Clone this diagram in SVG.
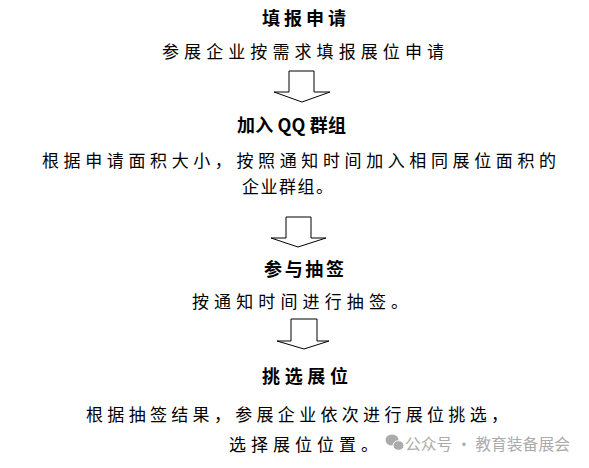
<svg xmlns="http://www.w3.org/2000/svg" width="589" height="468" viewBox="0 0 589 468">
<style>
.h{font-family:"Noto Sans CJK SC","Liberation Serif",serif;font-weight:bold;font-size:18px;fill:#000}
.t{font-family:"Noto Sans CJK SC","Liberation Sans",sans-serif;font-size:17px;fill:#000}
.w{font-family:"Noto Sans CJK SC","Liberation Sans",sans-serif;font-size:16px;fill:#ababab}
.arr{fill:#fff;stroke:#000;stroke-width:1}
</style>
<rect width="589" height="468" fill="#fff"/>
<g id="step1">
<text class="h" x="262" y="25" textLength="84" lengthAdjust="spacing">填报申请</text>
<text class="t" x="162" y="58" textLength="282" lengthAdjust="spacing">参展企业按需求填报展位申请</text>
</g>
<g id="step2">
<text class="h" x="237" y="132" textLength="109" lengthAdjust="spacing">加入 QQ 群组</text>
<text class="t" x="42" y="167" textLength="514" lengthAdjust="spacing">根据申请面积大小，按照通知时间加入相同展位面积的</text>
<text class="t" x="242" y="193" textLength="91" lengthAdjust="spacing">企业群组。</text>
</g>
<g id="step3">
<text class="h" x="264" y="276" textLength="80" lengthAdjust="spacing">参与抽签</text>
<text class="t" x="192" y="308" textLength="216" lengthAdjust="spacing">按通知时间进行抽签。</text>
</g>
<g id="step4">
<text class="h" x="262" y="383" textLength="86" lengthAdjust="spacing">挑选展位</text>
<text class="t" x="86" y="421" textLength="422" lengthAdjust="spacing">根据抽签结果，参展企业依次进行展位挑选，</text>
<text class="t" x="229" y="451" textLength="149" lengthAdjust="spacing">选择展位位置。</text>
</g>
<g id="connectors">
<polygon class="arr" points="289,71 314,71 314,92 330,92 302,102 274,92 289,92"/>
<polygon class="arr" points="286,217 311,217 311,238 326,238 298,247 271,238 286,238"/>
<polygon class="arr" points="291,319 317,319 317,341 329,341 304,349 277,341 291,341"/>
</g>
<g id="watermark">
<ellipse cx="392" cy="440" rx="6.5" ry="5.5" fill="#ababab"/>
<ellipse cx="398.5" cy="445.5" rx="5.5" ry="4.8" fill="#ababab" stroke="#fff" stroke-width="1"/>
<text class="w" x="405" y="450" textLength="165" lengthAdjust="spacingAndGlyphs">公众号 · 教育装备展会</text>
</g>
</svg>
